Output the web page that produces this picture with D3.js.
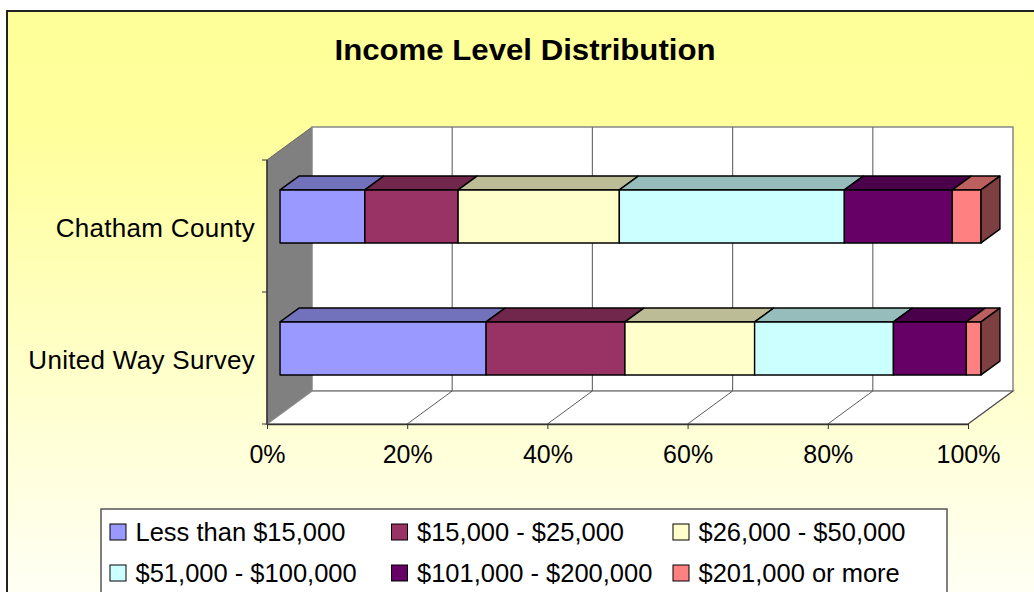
<!DOCTYPE html>
<html>
<head>
<meta charset="utf-8">
<script src="https://cdn.jsdelivr.net/npm/d3@7"></script>
<style>
  html, body { margin: 0; padding: 0; background: #fff; }
  svg { display: block; font-family: "Liberation Sans", Arial, sans-serif; }
</style>
</head>
<body>
<div id="chart"></div>
<script>
// data
var categories = ["Chatham County", "United Way Survey"];
var seriesNames = ["Less than $15,000", "$15,000 - $25,000", "$26,000 - $50,000",
                   "$51,000 - $100,000", "$101,000 - $200,000", "$201,000 or more"];
var chathamValues = [12.1, 13.3, 23.0, 32.1, 15.4, 4.1];
var unitedWayValues = [29.4, 19.8, 18.5, 19.8, 10.4, 2.1];
var tickValues = [0, 0.2, 0.4, 0.6, 0.8, 1];
var colors = ["#9999FF", "#993366", "#FFFFCC", "#CCFFFF", "#660066", "#FF8080"];

var width = 1034, height = 592;

// 3d frame
var front = { left: 267, right: 968, top: 160, bottom: 424 };
var depth = { dx: 45, dy: -33 };
var barZ0 = 0.29, barZ1 = 0.71, barThick = 53;

var svg = d3.select('#chart').append('svg')
    .attr('xmlns', 'http://www.w3.org/2000/svg')
    .attr('width', width)
    .attr('height', height);

var defs = svg.append('defs');
var grad = defs.append('linearGradient').attr('id', 'bg').attr('x1', 0).attr('y1', 0).attr('x2', 0).attr('y2', 1);
grad.append('stop').attr('offset', '0%').attr('stop-color', '#FFFF99');
grad.append('stop').attr('offset', '20%').attr('stop-color', '#FFFF9C');
grad.append('stop').attr('offset', '100%').attr('stop-color', '#FFFFF8');

svg.append('rect')
    .attr('x', 7).attr('y', 11)
    .attr('width', 1040).attr('height', 600)
    .attr('fill', 'url(#bg)')
    .attr('stroke', '#222').attr('stroke-width', 2);

svg.append('text')
    .attr('x', 525).attr('y', 60)
    .attr('text-anchor', 'middle')
    .attr('font-weight', 'bold')
    .attr('font-size', 29)
    .attr('textLength', 381)
    .attr('lengthAdjust', 'spacingAndGlyphs')
    .text('Income Level Distribution');

// scales
var x = d3.scaleLinear().domain([0, 1]).range([front.left, front.right]);
var y = d3.scaleBand().domain(categories).range([front.top, front.bottom]);

function P(v, yy, z) {
    return [x(v) + z * depth.dx, yy + z * depth.dy];
}
function poly(pts) {
    return pts.map(function (p) { return p.join(','); }).join(' ');
}

// walls
svg.append('polygon')
    .attr('points', poly([P(0, front.top, 0), P(0, front.top, 1), P(0, front.bottom, 1), P(0, front.bottom, 0)]))
    .attr('fill', '#808080').attr('stroke', '#666').attr('stroke-width', 1);

svg.append('polygon')
    .attr('points', poly([P(0, front.top, 1), P(1, front.top, 1), P(1, front.bottom, 1), P(0, front.bottom, 1)]))
    .attr('fill', '#fff').attr('stroke', '#888').attr('stroke-width', 1.5);

svg.append('polygon')
    .attr('points', poly([P(0, front.bottom, 0), P(1, front.bottom, 0), P(1, front.bottom, 1), P(0, front.bottom, 1)]))
    .attr('fill', '#fff').attr('stroke', '#888').attr('stroke-width', 1.5);

// gridlines on back wall and floor
var grid = svg.append('g');
grid.selectAll('line.gv').data(tickValues.slice(1, -1)).enter().append('line')
    .attr('x1', function (d) { return P(d, front.top, 1)[0]; })
    .attr('y1', function (d) { return P(d, front.top, 1)[1]; })
    .attr('x2', function (d) { return P(d, front.bottom, 1)[0]; })
    .attr('y2', function (d) { return P(d, front.bottom, 1)[1]; })
    .attr('stroke', '#707070').attr('stroke-width', 1.2);
grid.selectAll('line.gf').data(tickValues.slice(1)).enter().append('line')
    .attr('x1', function (d) { return P(d, front.bottom, 0)[0]; })
    .attr('y1', function (d) { return P(d, front.bottom, 0)[1]; })
    .attr('x2', function (d) { return P(d, front.bottom, 1)[0]; })
    .attr('y2', function (d) { return P(d, front.bottom, 1)[1]; })
    .attr('stroke', '#333').attr('stroke-width', 0.8);

// x axis
var xAxis = svg.append('g')
    .attr('transform', 'translate(0,' + front.bottom + ')')
    .call(d3.axisBottom(x).tickValues(tickValues).tickFormat(d3.format('.0%')).tickSize(5).tickPadding(16).tickSizeOuter(0));
xAxis.select('.domain').attr('stroke', '#333').attr('stroke-width', 1.5);
xAxis.selectAll('.tick line').attr('stroke', '#333');
xAxis.selectAll('.tick text').attr('font-size', 25).attr('fill', '#000')
    .attr('font-family', '"Liberation Sans", Arial, sans-serif');

// y axis
var yAxis = svg.append('g');
yAxis.append('line')
    .attr('x1', front.left).attr('x2', front.left)
    .attr('y1', front.top).attr('y2', front.bottom)
    .attr('stroke', '#333').attr('stroke-width', 1.5);
var yTicks = categories.map(function (c) { return y(c); }).concat([front.bottom]);
yAxis.selectAll('line.t').data(yTicks).enter().append('line')
    .attr('x1', front.left - 5).attr('x2', front.left)
    .attr('y1', function (d) { return d; }).attr('y2', function (d) { return d; })
    .attr('stroke', '#333');
yAxis.selectAll('text').data(categories).enter().append('text')
    .attr('x', 255)
    .attr('y', function (d) { return y(d) + y.bandwidth() / 2; })
    .attr('dy', '0.42em')
    .attr('text-anchor', 'end')
    .attr('font-size', 26)
    .attr('letter-spacing', 0.3)
    .text(function (d) { return d; });

// stacked bars
var rows = categories.map(function (c, i) {
    var vals = i === 0 ? chathamValues : unitedWayValues;
    var r = { category: c };
    seriesNames.forEach(function (s, j) { r[s] = vals[j]; });
    return r;
});
var stack = d3.stack().keys(seriesNames).offset(d3.stackOffsetExpand);
var layers = stack(rows);

var bars = svg.append('g');
categories.forEach(function (c, ci) {
    var cy = y(c) + y.bandwidth() / 2;
    var top = cy - barThick / 2, bot = cy + barThick / 2;
    var g = bars.append('g');
    layers.forEach(function (layer, li) {
        var d = layer[ci];
        var x0 = d[0], x1 = d[1];
        var col = d3.color(colors[li]);
        // top face
        g.append('polygon')
            .attr('points', poly([P(x0, top, barZ0), P(x1, top, barZ0), P(x1, top, barZ1), P(x0, top, barZ1)]))
            .attr('fill', col.darker(0.85))
            .attr('stroke', '#000').attr('stroke-width', 1.4).attr('stroke-linejoin', 'round');
        // front face
        g.append('polygon')
            .attr('points', poly([P(x0, top, barZ0), P(x1, top, barZ0), P(x1, bot, barZ0), P(x0, bot, barZ0)]))
            .attr('fill', colors[li])
            .attr('stroke', '#000').attr('stroke-width', 1.4).attr('stroke-linejoin', 'round');
        if (li === layers.length - 1) {
            g.append('polygon')
                .attr('points', poly([P(x1, top, barZ0), P(x1, top, barZ1), P(x1, bot, barZ1), P(x1, bot, barZ0)]))
                .attr('fill', col.darker(2))
                .attr('stroke', '#000').attr('stroke-width', 1.4).attr('stroke-linejoin', 'round');
        }
    });
});

// legend
var legend = svg.append('g');
legend.append('rect')
    .attr('x', 101).attr('y', 509)
    .attr('width', 846).attr('height', 100)
    .attr('fill', '#fff').attr('stroke', '#555').attr('stroke-width', 1.5);
var item = legend.selectAll('g.item').data(seriesNames).enter().append('g')
    .attr('transform', function (d, i) {
        return 'translate(' + (110 + (i % 3) * 281.5) + ',' + (524 + Math.floor(i / 3) * 41) + ')';
    });
item.append('rect')
    .attr('width', 16).attr('height', 16)
    .attr('fill', function (d, i) { return colors[i]; })
    .attr('stroke', '#000').attr('stroke-width', 1);
item.append('text')
    .attr('x', 25.5).attr('y', 17)
    .attr('font-size', 25.5)
    .text(function (d) { return d; });
</script>
</body>
</html>
